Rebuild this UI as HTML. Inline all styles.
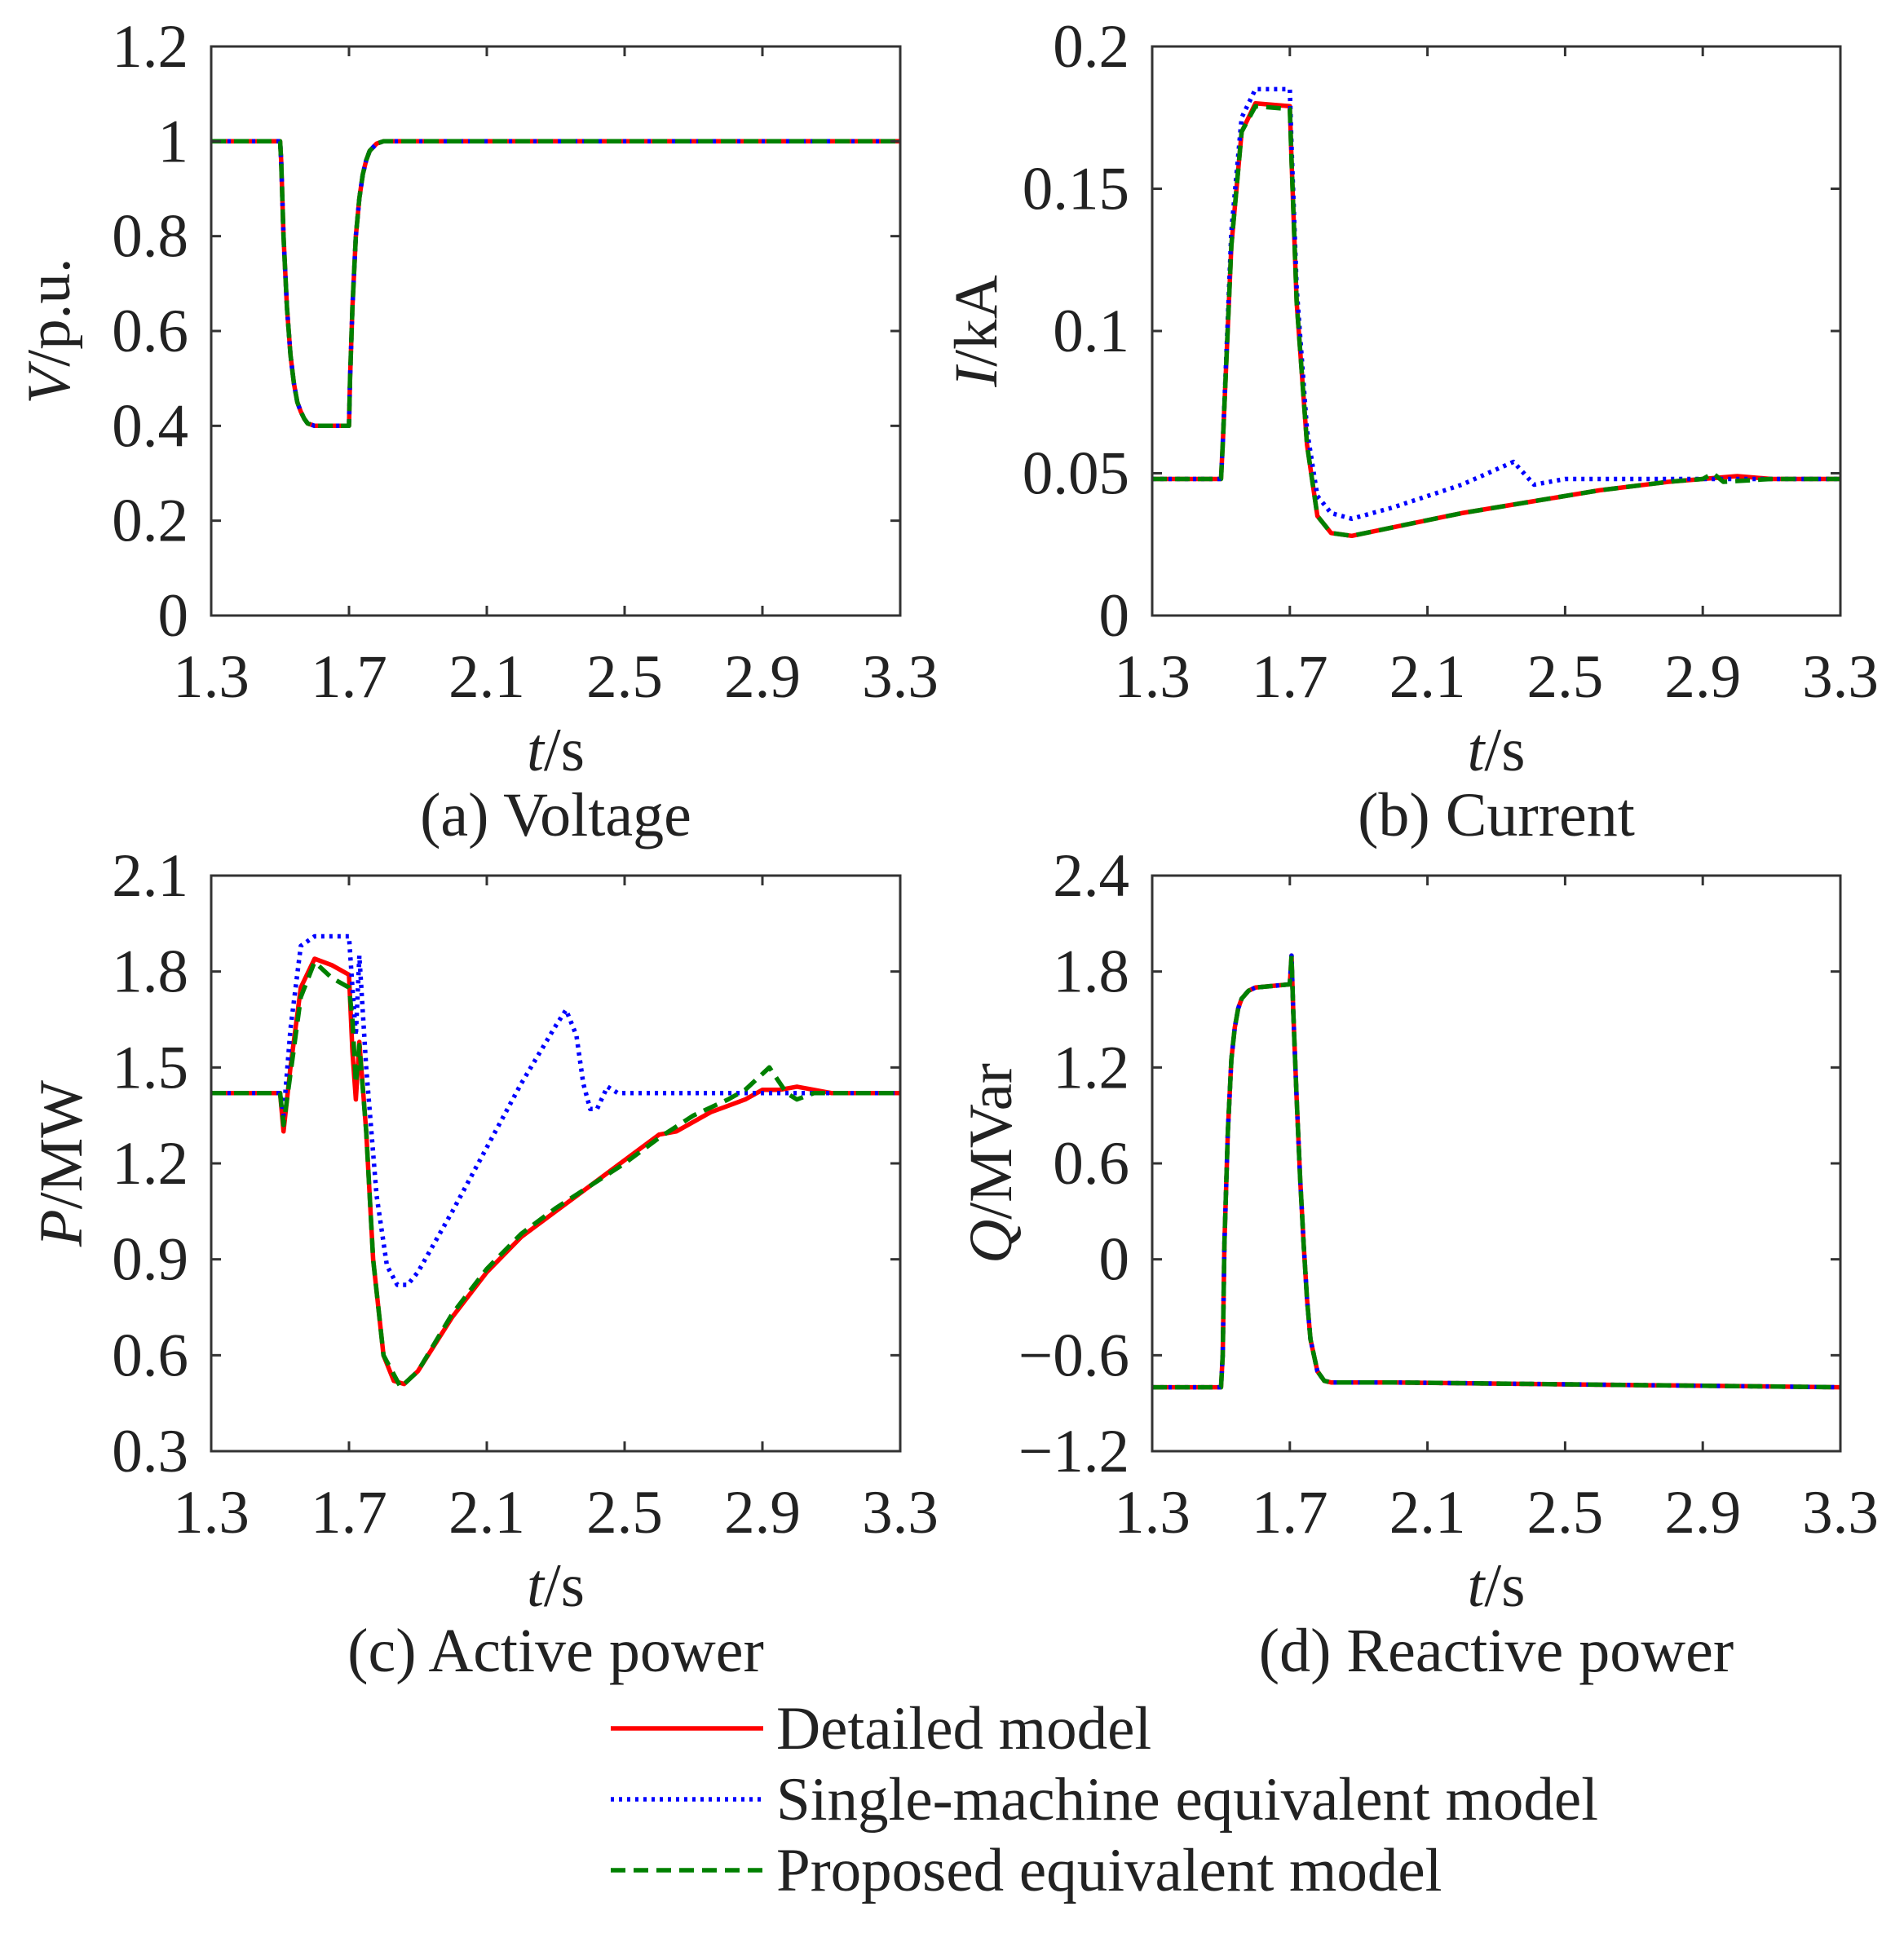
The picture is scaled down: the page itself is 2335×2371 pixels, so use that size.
<!DOCTYPE html>
<html><head><meta charset="utf-8"><style>
html,body{margin:0;padding:0;background:#fff;}
svg{display:block;font-family:"Liberation Serif",serif;}
</style></head><body>
<svg id="fig" width="2335" height="2371" viewBox="0 0 2335 2371" xmlns="http://www.w3.org/2000/svg"></svg>
<script>
// ---- data ----
const xTicks = [1.3,1.7,2.1,2.5,2.9,3.3];
const xTickLabels = ["1.3","1.7","2.1","2.5","2.9","3.3"];

const vTicks = [0,0.2,0.4,0.6,0.8,1,1.2];
const vTickLabels = ["0","0.2","0.4","0.6","0.8","1","1.2"];
const vT = [1.3,1.5,1.503,1.51,1.52,1.53,1.54,1.55,1.56,1.57,1.58,1.6,1.65,1.7,1.703,1.71,1.72,1.73,1.74,1.75,1.76,1.78,1.8,1.85,3.3];
const vVal = [1,1,0.96,0.8,0.65,0.55,0.49,0.45,0.43,0.415,0.405,0.40,0.40,0.40,0.5,0.65,0.8,0.88,0.93,0.96,0.98,0.995,1,1,1];

const iTicks = [0,0.05,0.1,0.15,0.2];
const iTickLabels = ["0","0.05","0.1","0.15","0.2"];
const iDetT = [1.3,1.5,1.505,1.53,1.56,1.6,1.7,1.705,1.72,1.75,1.78,1.82,1.88,2.0,2.2,2.4,2.6,2.8,3.0,3.1,3.3];
const iDetV = [0.048,0.048,0.06,0.13,0.17,0.18,0.179,0.16,0.11,0.06,0.035,0.029,0.028,0.031,0.036,0.040,0.044,0.047,0.049,0.048,0.048];
const iSinT = [1.3,1.5,1.505,1.53,1.56,1.6,1.7,1.705,1.72,1.75,1.78,1.82,1.88,2.0,2.2,2.35,2.38,2.41,2.5,3.3];
const iSinV = [0.048,0.048,0.06,0.135,0.175,0.185,0.185,0.165,0.115,0.065,0.042,0.036,0.034,0.038,0.046,0.054,0.050,0.046,0.048,0.048];
const iProT = [1.3,1.5,1.505,1.53,1.56,1.6,1.7,1.705,1.72,1.75,1.78,1.82,1.88,2.0,2.2,2.4,2.6,2.8,2.9,2.93,2.96,3.1,3.3];
const iProV = [0.048,0.048,0.06,0.13,0.17,0.179,0.178,0.16,0.11,0.06,0.035,0.029,0.028,0.031,0.036,0.040,0.044,0.047,0.048,0.050,0.047,0.048,0.048];

const pTicks = [0.3,0.6,0.9,1.2,1.5,1.8,2.1];
const pTickLabels = ["0.3","0.6","0.9","1.2","1.5","1.8","2.1"];
const pDetT = [1.3,1.5,1.51,1.53,1.56,1.6,1.65,1.7,1.71,1.72,1.73,1.75,1.77,1.8,1.83,1.86,1.9,2.0,2.1,2.2,2.3,2.4,2.5,2.6,2.65,2.75,2.85,2.9,2.95,3.0,3.05,3.1,3.3];
const pDetV = [1.42,1.42,1.30,1.50,1.75,1.84,1.82,1.79,1.55,1.40,1.58,1.30,0.9,0.6,0.52,0.51,0.55,0.72,0.86,0.97,1.05,1.13,1.21,1.29,1.30,1.36,1.40,1.43,1.43,1.44,1.43,1.42,1.42];
const pSinT = [1.3,1.5,1.51,1.53,1.56,1.6,1.7,1.71,1.72,1.73,1.75,1.78,1.81,1.84,1.87,1.9,2.0,2.1,2.2,2.3,2.33,2.36,2.38,2.40,2.42,2.45,2.48,3.3];
const pSinV = [1.42,1.42,1.35,1.62,1.88,1.91,1.91,1.75,1.60,1.85,1.5,1.1,0.88,0.82,0.82,0.86,1.05,1.25,1.45,1.63,1.68,1.6,1.45,1.37,1.37,1.44,1.42,1.42];
const pProT = [1.3,1.5,1.51,1.53,1.56,1.6,1.65,1.7,1.71,1.72,1.73,1.75,1.77,1.8,1.85,1.9,2.0,2.1,2.2,2.3,2.4,2.5,2.6,2.7,2.8,2.85,2.92,2.97,3.0,3.05,3.3];
const pProV = [1.42,1.42,1.32,1.48,1.72,1.83,1.78,1.75,1.65,1.45,1.57,1.30,0.9,0.6,0.50,0.55,0.73,0.87,0.98,1.06,1.13,1.20,1.28,1.35,1.40,1.43,1.50,1.42,1.40,1.42,1.42];

const qTicks = [-1.2,-0.6,0,0.6,1.2,1.8,2.4];
const qTickLabels = ["\u22121.2","\u22120.6","0","0.6","1.2","1.8","2.4"];
const qT = [1.3,1.5,1.505,1.51,1.52,1.53,1.54,1.55,1.56,1.58,1.6,1.7,1.705,1.71,1.72,1.73,1.74,1.75,1.76,1.78,1.8,1.82,2.0,3.3];
const qVal = [-0.8,-0.8,-0.6,0.1,0.8,1.25,1.45,1.57,1.63,1.68,1.70,1.72,1.9,1.55,1.0,0.5,0.1,-0.25,-0.5,-0.7,-0.76,-0.77,-0.77,-0.8];

// ---- drawing ----
const NS = "http://www.w3.org/2000/svg";
const svg = document.getElementById('fig');
function mk(tag, attrs, parent){const e=document.createElementNS(NS,tag);for(const k in attrs)e.setAttribute(k,attrs[k]);(parent||svg).appendChild(e);return e;}

const styles = {
  det:{stroke:"#ff0000",dash:"none"},
  sin:{stroke:"#0000ff",dash:"4 6"},
  pro:{stroke:"#008000",dash:"18 10"}
};
const FS = 75;

function panel(opt){
  const g = mk('g',{});
  
  
  const L=opt.x0,R=opt.x1,T=opt.y0,B=opt.y1;
  const xs = t => L + (t-1.3)/(3.3-1.3)*(R-L);
  const ys = v => B - (v-opt.ymin)/(opt.ymax-opt.ymin)*(B-T);
  opt.series.forEach(s=>{
    let d='';
    s.t.forEach((t,i)=>{d+=(i?'L':'M')+xs(t).toFixed(1)+' '+ys(s.v[i]).toFixed(1);});
    const st=styles[s.k];
    const p=mk('path',{d:d,fill:'none',stroke:st.stroke,'stroke-width':5.5,'stroke-dasharray':st.dash,'stroke-linejoin':'round'},g);
    
    
  });
  const fr=mk('rect',{x:L,y:T,width:R-L,height:B-T,fill:'none',stroke:'#333','stroke-width':3},g);
  
  
  xTicks.forEach((t,i)=>{
    const x=xs(t);
    mk('line',{x1:x,y1:B,x2:x,y2:B-12,stroke:'#333','stroke-width':3},g);
    mk('line',{x1:x,y1:T,x2:x,y2:T+12,stroke:'#333','stroke-width':3},g);
    const tx=mk('text',{x:x,y:B+100,'font-size':FS,'text-anchor':'middle',fill:'#222'},g);
    tx.textContent=xTickLabels[i];
    
    
  });
  opt.yticks.forEach((v,i)=>{
    const y=ys(v);
    mk('line',{x1:L,y1:y,x2:L+12,y2:y,stroke:'#333','stroke-width':3},g);
    mk('line',{x1:R,y1:y,x2:R-12,y2:y,stroke:'#333','stroke-width':3},g);
    const tx=mk('text',{x:L-28,y:y+25,'font-size':FS,'text-anchor':'end',fill:'#222'},g);
    tx.textContent=opt.ylabels[i];
    
    
  });
  const xl=mk('text',{x:(L+R)/2,y:B+190,'font-size':FS,'text-anchor':'middle',fill:'#222'},g);
  xl.innerHTML='<tspan font-style="italic">t</tspan>/s';
  
  
  const tl=mk('text',{x:(L+R)/2,y:B+270,'font-size':76,'text-anchor':'middle',fill:'#222'},g);
  tl.textContent=opt.title;
  
  
  const cy=(T+B)/2;
  const yl=mk('text',{x:0,y:0,'font-size':FS,'text-anchor':'middle',fill:'#222',transform:`translate(${opt.ylx},${cy}) rotate(-90)`},g);
  yl.innerHTML=opt.ylab;
  
  
}

panel({name:'voltage-panel',x0:259,x1:1104,y0:57,y1:755,ymin:0,ymax:1.2,yticks:vTicks,ylabels:vTickLabels,
  title:'(a) Voltage',ylx:85,ylab:'<tspan font-style="italic">V</tspan>/p.u.',
  series:[{k:'det',t:vT,v:vVal},{k:'sin',t:vT,v:vVal},{k:'pro',t:vT,v:vVal}]});
panel({name:'current-panel',x0:1413,x1:2257,y0:57,y1:755,ymin:0,ymax:0.2,yticks:iTicks,ylabels:iTickLabels,
  title:'(b) Current',ylx:1222,ylab:'<tspan font-style="italic">I</tspan>/kA',
  series:[{k:'det',t:iDetT,v:iDetV},{k:'sin',t:iSinT,v:iSinV},{k:'pro',t:iProT,v:iProV}]});
panel({name:'active-power-panel',x0:259,x1:1104,y0:1074,y1:1780,ymin:0.3,ymax:2.1,yticks:pTicks,ylabels:pTickLabels,
  title:'(c) Active power',ylx:100,ylab:'<tspan font-style="italic">P</tspan>/MW',
  series:[{k:'det',t:pDetT,v:pDetV},{k:'sin',t:pSinT,v:pSinV},{k:'pro',t:pProT,v:pProV}]});
panel({name:'reactive-power-panel',x0:1413,x1:2257,y0:1074,y1:1780,ymin:-1.2,ymax:2.4,yticks:qTicks,ylabels:qTickLabels,
  title:'(d) Reactive power',ylx:1240,ylab:'<tspan font-style="italic">Q</tspan>/MVar',
  series:[{k:'det',t:qT,v:qVal},{k:'sin',t:qT,v:qVal},{k:'pro',t:qT,v:qVal}]});

const legendLabels=["Detailed model","Single-machine equivalent model","Proposed equivalent model"];
const legendKeys=["det","sin","pro"];
const lg=mk('g',{});


legendLabels.forEach((lab,i)=>{
  const y=2120+i*87;
  const st=styles[legendKeys[i]];
  mk('line',{x1:749,y1:y,x2:936,y2:y,stroke:st.stroke,'stroke-width':5.5,'stroke-dasharray':st.dash},lg);
  const t=mk('text',{x:952,y:y+25,'font-size':75,fill:'#222'},lg);
  t.textContent=lab;
  
  
});
</script>
</body></html>
